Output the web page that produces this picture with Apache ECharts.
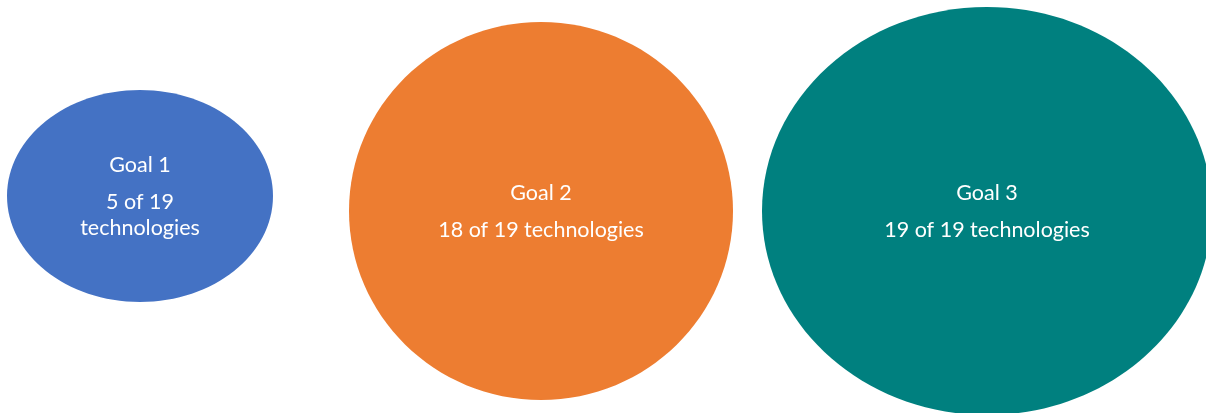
<!DOCTYPE html>
<html>
<head>
<meta charset="utf-8">
<script src="https://cdn.jsdelivr.net/npm/echarts@6/dist/echarts.min.js"></script>
<style>
html,body{margin:0;padding:0;background:#fff;}
#c{width:1206px;height:413px;}
</style>
</head>
<body>
<div id="c"></div>
<script>
// Data
var goals = ['Goal 1', 'Goal 2', 'Goal 3'];
var covered = [5, 18, 19];
var total = 19;
// Ellipse geometry in axis units: centre x, centre y, radius x, radius y
var centerX = [140, 541, 987];
var centerY = [196, 211, 211];
var radiusX = [133, 192, 225];
var radiusY = [106, 189, 204];

var colors = ['#4472C4', '#ED7D31', '#00807F'];
var FONT = 'Lato';
var FS = 21.5;

var data = goals.map(function (g, i) {
  return [centerX[i], centerY[i], radiusX[i], radiusY[i], i];
});

var measureCtx = document.createElement('canvas').getContext('2d');
function wrapText(text, maxW) {
  measureCtx.font = FS + 'px ' + FONT;
  var words = text.split(' ');
  var lines = [];
  var cur = '';
  words.forEach(function (w) {
    var test = cur ? cur + ' ' + w : w;
    if (cur && measureCtx.measureText(test).width > maxW) {
      lines.push(cur);
      cur = w;
    } else {
      cur = test;
    }
  });
  if (cur) lines.push(cur);
  return lines;
}

var TITLE_GAP = 37;   // distance between title line and first description line
var LINE_H = 26;      // description line height

var chart = echarts.init(document.getElementById('c'), null, {renderer: 'canvas'});
chart.setOption({
  animation: false,
  grid: {left: 0, right: 0, top: 0, bottom: 0},
  xAxis: {type: 'value', min: 0, max: 1206, show: false},
  yAxis: {type: 'value', min: 0, max: 413, inverse: true, show: false},
  series: [{
    type: 'custom',
    data: data,
    renderItem: function (params, api) {
      var i = api.value(4);
      var c = api.coord([api.value(0), api.value(1)]);
      var s = api.size([api.value(2), api.value(3)]);
      var rx = s[0], ry = s[1];
      var desc = covered[i] + ' of ' + total + ' technologies';
      var lines = wrapText(desc, rx * 1.25);
      var span = TITLE_GAP + (lines.length - 1) * LINE_H;
      var top = c[1] - span / 2 + 1;
      var children = [{
        type: 'ellipse',
        shape: {cx: c[0], cy: c[1], rx: rx, ry: ry},
        style: {fill: colors[i]}
      }, {
        type: 'text',
        x: c[0],
        y: top,
        style: {
          text: goals[i],
          align: 'center',
          verticalAlign: 'middle',
          fill: '#ffffff',
          fontFamily: FONT,
          fontSize: FS
        }
      }];
      lines.forEach(function (ln, k) {
        children.push({
          type: 'text',
          x: c[0],
          y: top + TITLE_GAP + k * LINE_H,
          style: {
            text: ln,
            align: 'center',
            verticalAlign: 'middle',
            fill: '#ffffff',
            fontFamily: FONT,
            fontSize: FS
          }
        });
      });
      return {type: 'group', children: children};
    }
  }]
});
</script>
</body>
</html>
